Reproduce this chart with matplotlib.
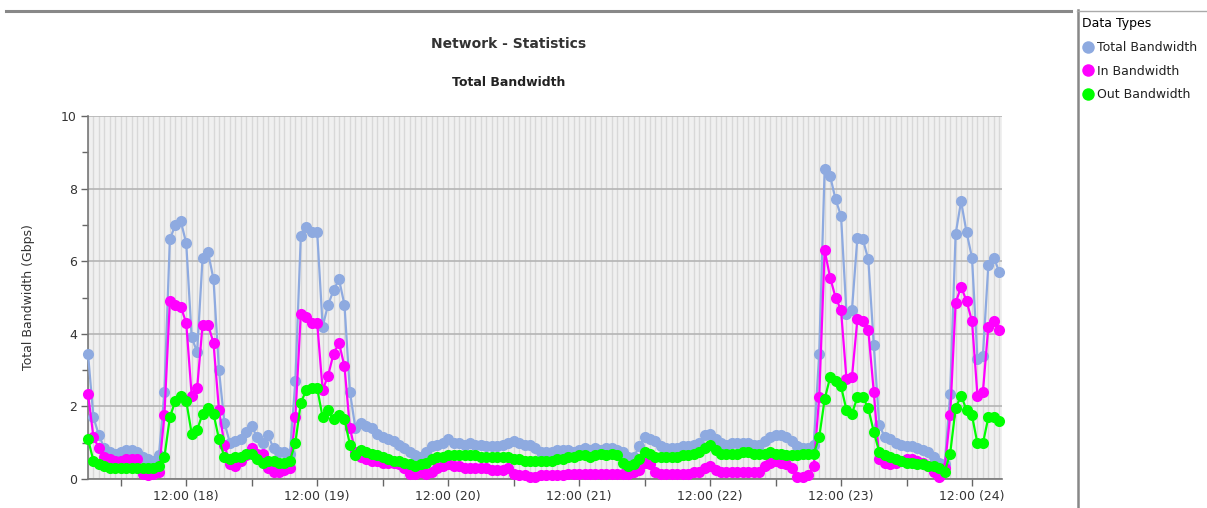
import numpy as np
import matplotlib
matplotlib.use("Agg")
import matplotlib.pyplot as plt
from matplotlib.lines import Line2D
from matplotlib.ticker import MultipleLocator

# hourly samples, starting 18:00 on day 17
total_bw = [
    3.45, 1.7, 1.2, 0.85, 0.75, 0.7, 0.75, 0.8, 0.8, 0.75, 0.6, 0.55,
    0.5, 0.65, 2.4, 6.6, 7.0, 7.1, 6.5, 3.9, 3.5, 6.1, 6.25, 5.5,
    3.0, 1.55, 1.0, 1.05, 1.1, 1.3, 1.45, 1.15, 1.0, 1.2, 0.85, 0.75,
    0.75, 0.7, 2.7, 6.7, 6.95, 6.8, 6.8, 4.2, 4.8, 5.2, 5.5, 4.8,
    2.4, 1.4, 1.55, 1.45, 1.4, 1.25, 1.15, 1.1, 1.05, 0.95, 0.85, 0.75,
    0.65, 0.6, 0.75, 0.9, 0.95, 1.0, 1.1, 1.0, 1.0, 0.95, 1.0, 0.95,
    0.95, 0.9, 0.9, 0.9, 0.95, 1.0, 1.05, 1.0, 0.95, 0.95, 0.85, 0.75,
    0.75, 0.75, 0.8, 0.8, 0.8, 0.75, 0.8, 0.85, 0.8, 0.85, 0.8, 0.85,
    0.85, 0.8, 0.75, 0.6, 0.6, 0.9, 1.15, 1.1, 1.05, 0.9, 0.85, 0.85,
    0.85, 0.9, 0.9, 0.95, 1.0, 1.2, 1.25, 1.1, 1.0, 0.95, 1.0, 1.0,
    1.0, 1.0, 0.95, 0.95, 1.05, 1.15, 1.2, 1.2, 1.15, 1.05, 0.9, 0.85,
    0.85, 0.95, 3.45, 8.55, 8.35, 7.7, 7.25, 4.55, 4.65, 6.65, 6.6, 6.05,
    3.7, 1.5, 1.15, 1.1, 1.0, 0.95, 0.9, 0.9, 0.85, 0.8, 0.75, 0.6,
    0.45, 0.4, 2.35, 6.75, 7.65, 6.8, 6.1, 3.3, 3.4, 5.9, 6.1, 5.7,
]
in_bw = [
    2.35, 1.15, 0.85, 0.6, 0.55, 0.5, 0.5, 0.55, 0.55, 0.55, 0.15, 0.12,
    0.15, 0.2, 1.75, 4.9, 4.8, 4.75, 4.3, 2.3, 2.5, 4.25, 4.25, 3.75,
    1.9, 0.95, 0.4, 0.35, 0.5, 0.65, 0.85, 0.7, 0.7, 0.3, 0.2, 0.2,
    0.25, 0.3, 1.7, 4.55, 4.45, 4.3, 4.3, 2.45, 2.85, 3.45, 3.75, 3.1,
    1.4, 0.75, 0.6, 0.55, 0.5, 0.5, 0.45, 0.45, 0.45, 0.4, 0.3, 0.15,
    0.15, 0.2, 0.15, 0.2, 0.3, 0.35, 0.4, 0.35, 0.35, 0.3, 0.3, 0.3,
    0.3, 0.3, 0.25, 0.25, 0.25, 0.3, 0.15, 0.1, 0.1, 0.05, 0.05, 0.1,
    0.1, 0.1, 0.1, 0.1, 0.15, 0.15, 0.15, 0.15, 0.15, 0.15, 0.15, 0.15,
    0.15, 0.15, 0.15, 0.15, 0.2, 0.25, 0.45, 0.4, 0.2, 0.15, 0.15, 0.15,
    0.15, 0.15, 0.15, 0.2, 0.2, 0.3, 0.35, 0.25, 0.2, 0.2, 0.2, 0.2,
    0.2, 0.2, 0.2, 0.2, 0.35, 0.45, 0.5, 0.45, 0.4, 0.3, 0.05, 0.05,
    0.1, 0.35, 2.25, 6.3, 5.55, 5.0, 4.65, 2.75, 2.8, 4.4, 4.35, 4.1,
    2.4, 0.55, 0.45, 0.4, 0.45, 0.5, 0.55, 0.55, 0.5, 0.45, 0.35, 0.2,
    0.05, 0.3, 1.75, 4.85, 5.3, 4.9, 4.35, 2.3, 2.4, 4.2, 4.35, 4.1,
]
out_bw = [
    1.1, 0.5, 0.4, 0.35, 0.3, 0.3, 0.3, 0.3, 0.3, 0.3, 0.3, 0.3,
    0.3, 0.35, 0.6, 1.7, 2.15, 2.3, 2.15, 1.25, 1.35, 1.8, 1.95, 1.8,
    1.1, 0.6, 0.55, 0.6, 0.6, 0.7, 0.7, 0.55, 0.45, 0.5, 0.5, 0.45,
    0.45, 0.5, 1.0, 2.1, 2.45, 2.5, 2.5, 1.7, 1.9, 1.65, 1.75, 1.65,
    0.95, 0.65, 0.8, 0.75, 0.7, 0.65, 0.6, 0.55, 0.5, 0.5, 0.45, 0.4,
    0.35, 0.4, 0.45, 0.55, 0.6, 0.6, 0.65, 0.65, 0.65, 0.65, 0.65, 0.65,
    0.6, 0.6, 0.6, 0.6, 0.6, 0.6, 0.55, 0.55, 0.5, 0.5, 0.5, 0.5,
    0.5, 0.5, 0.55, 0.55, 0.6, 0.6, 0.65, 0.65, 0.6, 0.65, 0.7, 0.65,
    0.7, 0.65, 0.45, 0.35, 0.4, 0.55, 0.75, 0.7, 0.6, 0.6, 0.6, 0.6,
    0.6, 0.65, 0.65, 0.7, 0.75, 0.85, 0.95, 0.8, 0.7, 0.7, 0.7, 0.7,
    0.75, 0.75, 0.7, 0.7, 0.7, 0.75, 0.7, 0.7, 0.65, 0.65, 0.65, 0.7,
    0.7, 0.7, 1.15, 2.2, 2.8, 2.7, 2.55, 1.9, 1.8, 2.25, 2.25, 1.95,
    1.3, 0.75, 0.65, 0.6, 0.55, 0.5, 0.45, 0.45, 0.4, 0.4, 0.35, 0.35,
    0.3, 0.2, 0.7, 1.95, 2.3, 1.9, 1.75, 0.98, 0.98, 1.7, 1.7, 1.6,
]
series_names = ["Total Bandwidth", "In Bandwidth", "Out Bandwidth"]
series_colors = ["#8eaae0", "#ff00ff", "#00ff00"]
day_labels = ["12:00 (18)", "12:00 (19)", "12:00 (20)", "12:00 (21)",
              "12:00 (22)", "12:00 (23)", "12:00 (24)"]

hours = np.arange(len(total_bw))

fig = plt.figure(figsize=(12.07, 5.08), dpi=100)
ax = fig.add_axes([88 / 1207, 1 - 479 / 508, 914 / 1207, 363 / 508])
ax.set_facecolor("#f0f0f0")

for vals, name, col in zip([total_bw, in_bw, out_bw], series_names, series_colors):
    ax.plot(hours, vals, color=col, lw=1.6, marker="o", markersize=8,
            markeredgewidth=0, label=name, zorder=3, clip_on=False)

ax.set_xlim(0, 167.5)
ax.set_ylim(0, 10)

# ticks every 12h, labels only at noon
noon = np.arange(18, 168, 24)
ax.set_xticks(np.arange(6, 168, 12))
ax.set_xticklabels(["" if h not in noon else day_labels[list(noon).index(h)]
                    for h in np.arange(6, 168, 12)])
ax.xaxis.set_minor_locator(MultipleLocator(1))
ax.tick_params(axis="x", which="minor", length=0)
ax.set_yticks(np.arange(0, 11, 2))
ax.yaxis.set_minor_locator(MultipleLocator(1))
ax.tick_params(axis="both", which="major", length=5, width=1, color="#666666",
               labelsize=9, labelcolor="#333333", pad=3)
ax.tick_params(axis="y", which="minor", length=4, width=1, color="#666666")

ax.grid(axis="x", which="both", color="#d8d8d8", lw=1)
ax.grid(axis="y", which="major", color="#b4b4b4", lw=1.2)
ax.set_axisbelow(True)

for s in ["top", "right"]:
    ax.spines[s].set_visible(False)
for s in ["left", "bottom"]:
    ax.spines[s].set_color("#777777")
    ax.spines[s].set_linewidth(1.2)

ax.set_ylabel("Total Bandwidth (Gbps)", fontsize=9, color="#333333", labelpad=19)

fig.text(509 / 1207, 1 - 44 / 508, "Network - Statistics", ha="center", va="center",
         fontsize=10, fontweight="bold", color="#333333")
fig.text(509 / 1207, 1 - 83 / 508, "Total Bandwidth", ha="center", va="center",
         fontsize=9, fontweight="bold", color="#222222")

# frame lines
fig.add_artist(Line2D([6 / 1207, 1071 / 1207], [1 - 11 / 508] * 2,
                      color="#888888", lw=2.2))
fig.add_artist(Line2D([1077.5 / 1207] * 2, [0, 1 - 10 / 508],
                      color="#888888", lw=1.8))
fig.add_artist(Line2D([1077 / 1207, 1], [1 - 10.5 / 508] * 2,
                      color="#aaaaaa", lw=1))

handles = [Line2D([], [], color=c, marker="o", ls="none", markersize=9,
                  markeredgewidth=0) for c in series_colors]
leg = fig.legend(handles, series_names, title="Data Types", loc="upper left",
                 bbox_to_anchor=(1079 / 1207, 1 - 15 / 508), frameon=False,
                 fontsize=9, title_fontsize=9, handlelength=1.0,
                 handletextpad=0.25, labelspacing=0.85, borderpad=0.2,
                 borderaxespad=0, alignment="left")
for t in leg.get_texts():
    t.set_color("#222222")

fig.savefig("out.png", dpi=100)
